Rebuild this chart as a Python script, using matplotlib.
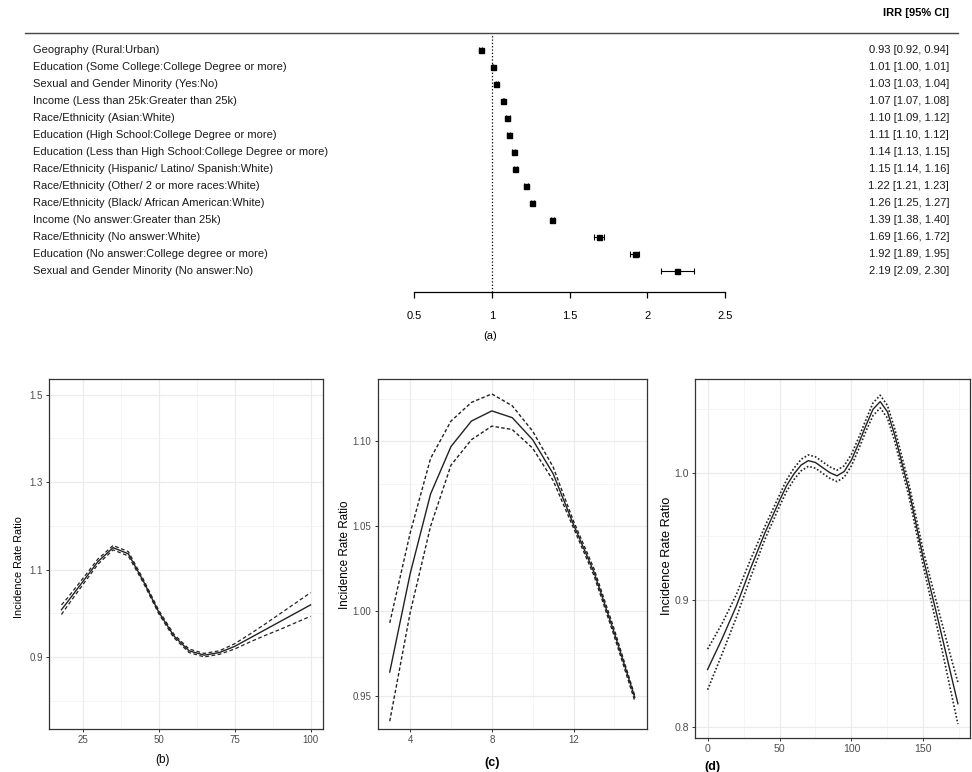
import matplotlib
matplotlib.use("Agg")
import matplotlib.pyplot as plt
from matplotlib.lines import Line2D
from matplotlib.transforms import blended_transform_factory

plt.rcParams['font.family'] = ['Liberation Sans', 'DejaVu Sans']

# ---- datos panel (a): forest plot IRR ----
labels = [
    "Geography (Rural:Urban)",
    "Education (Some College:College Degree or more)",
    "Sexual and Gender Minority (Yes:No)",
    "Income (Less than 25k:Greater than 25k)",
    "Race/Ethnicity (Asian:White)",
    "Education (High School:College Degree or more)",
    "Education (Less than High School:College Degree or more)",
    "Race/Ethnicity (Hispanic/ Latino/ Spanish:White)",
    "Race/Ethnicity (Other/ 2 or more races:White)",
    "Race/Ethnicity (Black/ African American:White)",
    "Income (No answer:Greater than 25k)",
    "Race/Ethnicity (No answer:White)",
    "Education (No answer:College degree or more)",
    "Sexual and Gender Minority (No answer:No)",
]
irr = [0.93, 1.01, 1.03, 1.07, 1.10, 1.11, 1.14, 1.15, 1.22, 1.26, 1.39, 1.69, 1.92, 2.19]
irr_lo = [0.92, 1.00, 1.03, 1.07, 1.09, 1.10, 1.13, 1.14, 1.21, 1.25, 1.38, 1.66, 1.89, 2.09]
irr_hi = [0.94, 1.01, 1.04, 1.08, 1.12, 1.12, 1.15, 1.16, 1.23, 1.27, 1.40, 1.72, 1.95, 2.30]
a_ticks = [0.5, 1, 1.5, 2, 2.5]

# ---- datos panel (b) ----
b_x = [18, 20, 25, 30, 35, 40, 45, 50, 55, 60, 65, 70, 75, 80, 85, 90, 95, 100]
b_fit = [1.008, 1.026, 1.072, 1.118, 1.150, 1.136, 1.073, 1.003, 0.948, 0.914, 0.904, 0.910,
         0.924, 0.943, 0.962, 0.981, 1.000, 1.019]
b_up = [1.019, 1.035, 1.079, 1.124, 1.155, 1.141, 1.077, 1.007, 0.952, 0.918, 0.908, 0.914,
        0.930, 0.952, 0.975, 0.999, 1.023, 1.047]
b_lo = [0.997, 1.017, 1.065, 1.112, 1.145, 1.131, 1.069, 0.999, 0.944, 0.910, 0.900, 0.906,
        0.918, 0.934, 0.949, 0.963, 0.978, 0.993]

# ---- datos panel (c) ----
c_x = [3, 4, 5, 6, 7, 8, 9, 10, 11, 12, 13, 14, 15]
c_fit = [0.964, 1.022, 1.069, 1.097, 1.112, 1.118, 1.114, 1.101, 1.081, 1.051, 1.023, 0.987, 0.949]
c_up = [0.993, 1.046, 1.090, 1.112, 1.123, 1.128, 1.121, 1.106, 1.085, 1.053, 1.025, 0.989, 0.950]
c_lo = [0.935, 0.999, 1.050, 1.086, 1.101, 1.109, 1.107, 1.096, 1.077, 1.049, 1.021, 0.985, 0.947]

# ---- datos panel (d) ----
d_x = [0, 10, 20, 30, 40, 50, 55, 60, 65, 70, 75, 80, 85, 90, 95, 100, 105, 110, 115, 120,
       125, 130, 140, 150, 160, 170, 174]
d_fit = [0.845, 0.869, 0.895, 0.925, 0.953, 0.978, 0.990, 0.999, 1.006, 1.0095, 1.008, 1.004,
         1.000, 0.9975, 1.001, 1.010, 1.023, 1.037, 1.050, 1.056, 1.048, 1.030, 0.986, 0.932,
         0.885, 0.837, 0.818]
d_up = [0.861, 0.881, 0.904, 0.932, 0.958, 0.9825, 0.9945, 1.0035, 1.0105, 1.014, 1.0125,
        1.0085, 1.0045, 1.002, 1.0055, 1.0145, 1.0275, 1.0415, 1.055, 1.061, 1.053, 1.035,
        0.991, 0.938, 0.894, 0.851, 0.835]
d_lo = [0.829, 0.857, 0.886, 0.918, 0.948, 0.9735, 0.9855, 0.9945, 1.0015, 1.005, 1.0035,
        0.9995, 0.9955, 0.993, 0.9965, 1.0055, 1.0185, 1.0325, 1.045, 1.051, 1.043, 1.025,
        0.981, 0.926, 0.876, 0.823, 0.802]

W, H = 972, 772


def px_box(left, top, right, bottom):
    return [left / W, 1 - bottom / H, (right - left) / W, (bottom - top) / H]


fig = plt.figure(figsize=(W / 100, H / 100), dpi=100)

# ---------------- panel (a) ----------------
ax = fig.add_axes(px_box(414, 33, 725, 292))
n = len(labels)
rows = list(range(n, 0, -1))
xerr = [[m - l for m, l in zip(irr, irr_lo)], [h - m for m, h in zip(irr, irr_hi)]]
ax.errorbar(irr, rows, xerr=xerr, fmt='s', color='black', ms=3.6, capsize=2,
            elinewidth=0.8, capthick=0.8)
ax.axvline(1, ls=':', color='black', lw=0.9)
ax.set_xlim(0.5, 2.5)
ax.set_ylim(-0.25, 15.0)
for s in ['top', 'left', 'right']:
    ax.spines[s].set_visible(False)
ax.spines['bottom'].set_linewidth(0.9)
ax.set_yticks([])
ax.set_xticks(a_ticks)
ax.set_xticklabels(['0.5', '1', '1.5', '2', '2.5'])
ax.tick_params(axis='x', length=4.5, width=0.9, pad=9, labelsize=8)

trans = blended_transform_factory(fig.transFigure, ax.transData)
for r, lab, m, l, h in zip(rows, labels, irr, irr_lo, irr_hi):
    ax.text(33 / W, r, lab, transform=trans, ha='left', va='center', fontsize=8, color='#1a1a1a')
    ax.text(949 / W, r, "{:.2f} [{:.2f}, {:.2f}]".format(m, l, h), transform=trans,
            ha='right', va='center', fontsize=8, color='#1a1a1a')
ax.text(949 / W, 16.2, "IRR [95% CI]", transform=trans, ha='right', va='center',
        fontsize=8, fontweight='bold')
fig.add_artist(Line2D([25 / W, 958 / W], [1 - 33 / H, 1 - 33 / H], color='#444444', lw=1.0))
fig.text(490 / W, 1 - 336 / H, "(a)", ha='center', va='center', fontsize=8)


# ---------------- paneles (b), (c), (d) ----------------
def draw_panel(box, x, fit, up, lo, xlim, ylim, xmaj, xmin, ymaj, ymin, ytl, dash, dlw, fs):
    p = fig.add_axes(box)
    p.plot(x, up, color='#222222', lw=dlw, ls=dash)
    p.plot(x, lo, color='#222222', lw=dlw, ls=dash)
    p.plot(x, fit, color='#222222', lw=1.0)
    p.set_xlim(*xlim)
    p.set_ylim(*ylim)
    p.set_xticks(xmaj)
    p.set_xticks(xmin, minor=True)
    p.set_yticks(ymaj)
    p.set_yticklabels(ytl)
    p.set_yticks(ymin, minor=True)
    p.grid(which='major', color='#EBEBEB', lw=0.8)
    p.grid(which='minor', color='#F2F2F2', lw=0.5)
    p.set_axisbelow(True)
    p.tick_params(which='major', length=2, width=0.7, color='#333333', labelcolor='#4D4D4D',
                  labelsize=fs, pad=2.5)
    p.tick_params(which='minor', length=0)
    for s in p.spines.values():
        s.set_color('#333333')
        s.set_linewidth(0.9)
    return p


draw_panel(px_box(49, 379, 323, 729), b_x, b_fit, b_up, b_lo, (13.9, 104.1), (0.735, 1.536),
           [25, 50, 75, 100], [37.5, 62.5, 87.5], [0.9, 1.1, 1.3, 1.5], [0.8, 1.0, 1.2, 1.4],
           ['0.9', '1.1', '1.3', '1.5'], (0, (3, 2)), 0.9, 7)
fig.text(19 / W, 1 - 567 / H, "Incidence Rate Ratio", rotation=90, ha='center', va='center',
         fontsize=7.8)
fig.text(162 / W, 1 - 760 / H, "(b)", ha='center', va='center', fontsize=8.5)

draw_panel(px_box(377.5, 379, 647, 729), c_x, c_fit, c_up, c_lo, (2.4, 15.6), (0.9304, 1.1368),
           [4, 8, 12], [6, 10, 14], [0.95, 1.00, 1.05, 1.10], [0.975, 1.025, 1.075, 1.125],
           ['0.95', '1.00', '1.05', '1.10'], (0, (2.5, 1.6)), 1.0, 7)
fig.text(345 / W, 1 - 555 / H, "Incidence Rate Ratio", rotation=90, ha='center', va='center',
         fontsize=8.4)
fig.text(492 / W, 1 - 763 / H, "(c)", ha='center', va='center', fontsize=9, fontweight='bold')

draw_panel(px_box(695, 379, 970, 738), d_x, d_fit, d_up, d_lo, (-8.75, 182.4), (0.791, 1.0738),
           [0, 50, 100, 150], [25, 75, 125, 175], [0.8, 0.9, 1.0], [0.85, 0.95, 1.05],
           ['0.8', '0.9', '1.0'], (0, (1, 1.2)), 1.2, 7.6)
fig.text(667 / W, 1 - 556 / H, "Incidence Rate Ratio", rotation=90, ha='center', va='center',
         fontsize=9.2)
fig.text(712 / W, 1 - 767 / H, "(d)", ha='center', va='center', fontsize=9, fontweight='bold')

fig.savefig("out.png", dpi=100)
